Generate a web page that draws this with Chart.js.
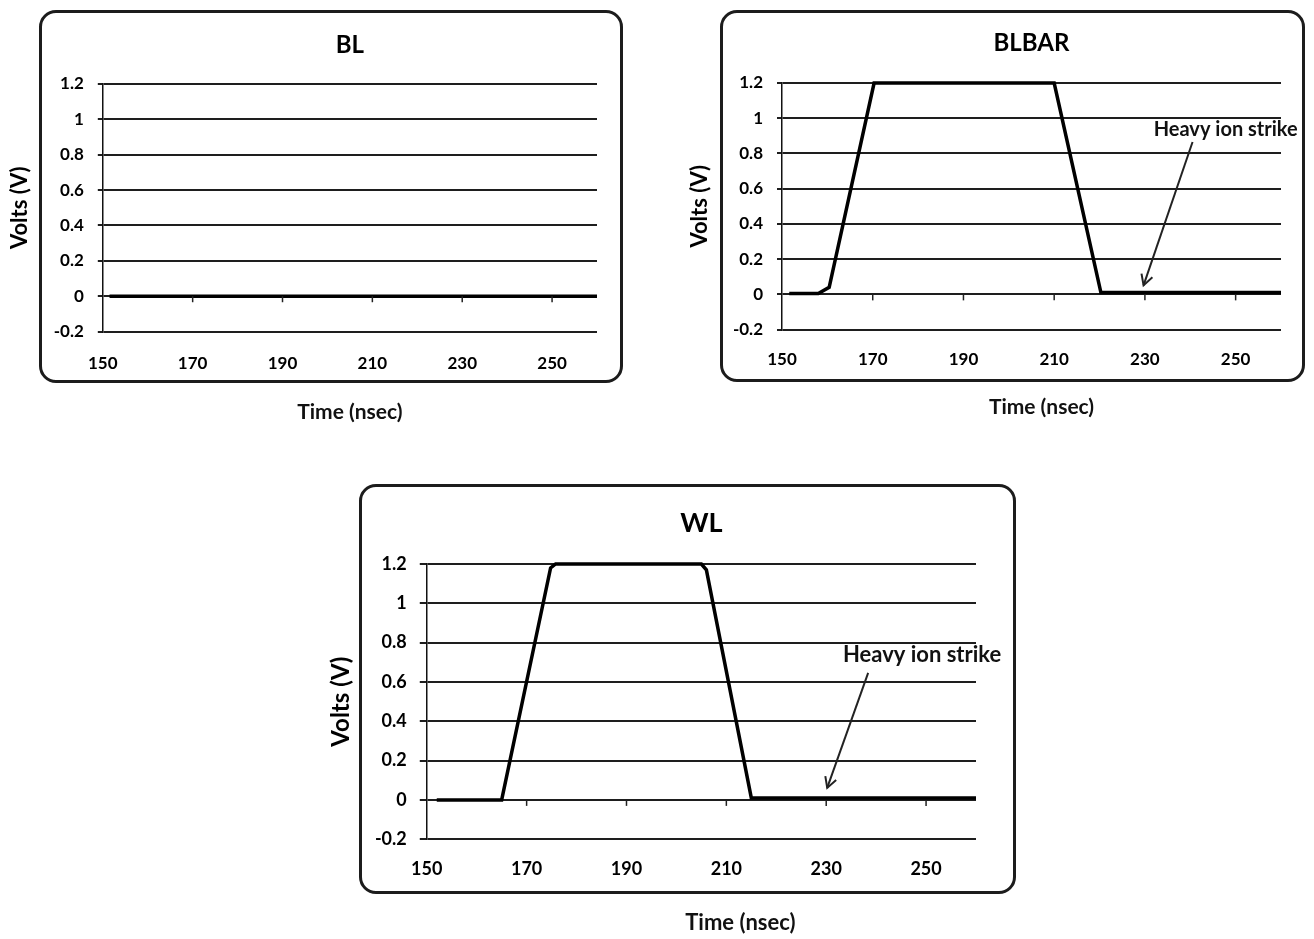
<!DOCTYPE html>
<html>
<head>
<meta charset="utf-8">
<script src="https://cdn.jsdelivr.net/npm/chart.js@4.4.1/dist/chart.umd.min.js"></script>
<style>
body{margin:0;background:#fff;width:1314px;height:939px;position:relative;overflow:hidden}
.frame{position:absolute;border:3px solid #1c1c1c;border-radius:17px;box-sizing:border-box}
canvas{position:absolute}
</style>
</head>
<body>
<div class="frame" style="left:39px;top:10px;width:584px;height:373px"></div>
<div class="frame" style="left:720px;top:10px;width:585px;height:372px"></div>
<div class="frame" style="left:359px;top:484px;width:657px;height:410px"></div>
<canvas id="bl" width="640" height="430" style="left:0;top:0"></canvas>
<canvas id="blbar" width="634" height="430" style="left:680px;top:0"></canvas>
<canvas id="wl" width="720" height="469" style="left:320px;top:470px"></canvas>
<script>
// time in nsec, node voltage in V
const timeTicks = [150, 170, 190, 210, 230, 250];
const voltTicks = [-0.2, 0, 0.2, 0.4, 0.6, 0.8, 1, 1.2];

const blTime = [151.5, 260];
const blVolts = [0, 0];

const blbarTime = [151.6, 158, 160.4, 170.3, 210, 220.3, 260];
const blbarVolts = [0.005, 0.005, 0.04, 1.2, 1.2, 0.01, 0.01];

const wlTime = [152, 165, 174.8, 175.8, 205, 206, 215, 260];
const wlVolts = [0, 0, 1.18, 1.2, 1.2, 1.17, 0.01, 0.01];

const timeTitle = 'Time (nsec)';
const voltTitle = 'Volts (V)';
const strikeLabel = 'Heavy ion strike';

// small ticks under the 0 V line, the caption under the frame and the arrow note
const marks = {
  id: 'marks',
  afterDraw(chart, args, o) {
    const ctx = chart.ctx, a = chart.chartArea, x = chart.scales.x, y = chart.scales.y;
    ctx.save();
    ctx.strokeStyle = '#222';
    ctx.lineWidth = 1.5;
    const y0 = y.getPixelForValue(0);
    timeTicks.slice(1).forEach(t => {
      const px = x.getPixelForValue(t);
      ctx.beginPath(); ctx.moveTo(px, y0); ctx.lineTo(px, y0 + 6); ctx.stroke();
    });

    ctx.fillStyle = '#111';
    ctx.textAlign = 'center';
    ctx.textBaseline = 'middle';
    ctx.font = 'bold ' + o.captionSize + 'px Lato';
    ctx.fillText(timeTitle, (a.left + a.right) / 2 + o.captionShift, o.captionY);

    if (o.note) {
      const n = o.note;
      ctx.font = 'bold ' + n.size + 'px Lato';
      ctx.fillText(strikeLabel, x.getPixelForValue(n.text[0]), y.getPixelForValue(n.text[1]));
      const x1 = x.getPixelForValue(n.from[0]), y1 = y.getPixelForValue(n.from[1]);
      const x2 = x.getPixelForValue(n.to[0]), y2 = y.getPixelForValue(n.to[1]);
      ctx.lineWidth = 2;
      ctx.beginPath(); ctx.moveTo(x1, y1); ctx.lineTo(x2, y2); ctx.stroke();
      const ang = Math.atan2(y2 - y1, x2 - x1);
      ctx.beginPath();
      ctx.moveTo(x2 - 12 * Math.cos(ang - 0.5), y2 - 12 * Math.sin(ang - 0.5));
      ctx.lineTo(x2, y2);
      ctx.lineTo(x2 - 12 * Math.cos(ang + 0.5), y2 - 12 * Math.sin(ang + 0.5));
      ctx.stroke();
    }
    ctx.restore();
  }
};

function makeChart(id, title, time, volts, s) {
  return new Chart(document.getElementById(id), {
    type: 'scatter',
    data: {
      datasets: [{
        data: time.map((t, i) => ({x: t, y: volts[i]})),
        showLine: true,
        borderColor: '#000',
        borderWidth: 3.5,
        pointRadius: 0,
        tension: 0,
        clip: false
      }]
    },
    options: {
      responsive: false,
      animation: false,
      devicePixelRatio: 1,
      layout: {padding: {left: s.padL, right: s.padR, bottom: s.padB, top: 0}},
      plugins: {
        legend: {display: false},
        tooltip: {enabled: false},
        title: {
          display: true, text: title, fullSize: false, color: '#000',
          font: {family: 'Lato', size: s.title, weight: 'bold'},
          padding: {top: s.titleTop, bottom: s.titleBottom}
        },
        marks: {captionSize: s.caption, captionShift: s.captionShift, captionY: s.captionY, note: s.note}
      },
      scales: {
        x: {
          type: 'linear', min: 150, max: 260,
          afterBuildTicks: sc => { sc.ticks = timeTicks.map(v => ({value: v})); },
          grid: {display: false, drawTicks: false},
          border: {display: false},
          ticks: {color: '#000', padding: s.xPad, maxRotation: 0, font: {family: 'Lato', size: s.tick, weight: 'bold'}}
        },
        y: {
          min: -0.2, max: 1.2,
          afterBuildTicks: sc => { sc.ticks = voltTicks.map(v => ({value: v})); },
          grid: {color: '#1e1e1e', lineWidth: 2, tickLength: s.tickLen},
          border: {color: '#111', width: 1.5},
          ticks: {
            color: '#000', padding: s.yPad,
            font: {family: 'Lato', size: s.tick, weight: 'bold'},
            callback: v => String(Math.round(v * 10) / 10)
          },
          title: {
            display: true, text: voltTitle, color: '#000',
            font: {family: 'Lato', size: s.axis, weight: 'bold'},
            padding: {top: 0, bottom: s.yTitleGap}
          }
        }
      }
    },
    plugins: [marks]
  });
}

makeChart('bl', 'BL', blTime, blVolts, {
  padL: 6.8, padR: 43, padB: 34.4,
  title: 24, titleTop: 30.6, titleBottom: 24.6,
  tick: 17, xPad: 21.8, yPad: 14, tickLen: 5,
  axis: 22, yTitleGap: 6.5,
  caption: 21, captionShift: 0, captionY: 412
});

makeChart('blbar', 'BLBAR', blbarTime, blbarVolts, {
  padL: 6.8, padR: 33, padB: 40.4,
  title: 24, titleTop: 28.6, titleBottom: 25.6,
  tick: 17, xPad: 19.8, yPad: 14, tickLen: 5,
  axis: 22, yTitleGap: 5.7,
  caption: 21, captionShift: 10, captionY: 407,
  note: {size: 20, text: [247.8, 0.933], from: [240.5, 0.865], to: [229.7, 0.051]}
});

makeChart('wl', 'WL', wlTime, wlVolts, {
  padL: 6.6, padR: 64, padB: 39.8,
  title: 27, titleTop: 36.8, titleBottom: 24.8,
  tick: 18, xPad: 19.2, yPad: 13, tickLen: 7,
  axis: 24, yTitleGap: 6.5,
  caption: 22, captionShift: 39, captionY: 453,
  note: {size: 22, text: [249.2, 0.737], from: [238.4, 0.646], to: [230.2, 0.061]}
});
</script>
</body>
</html>
